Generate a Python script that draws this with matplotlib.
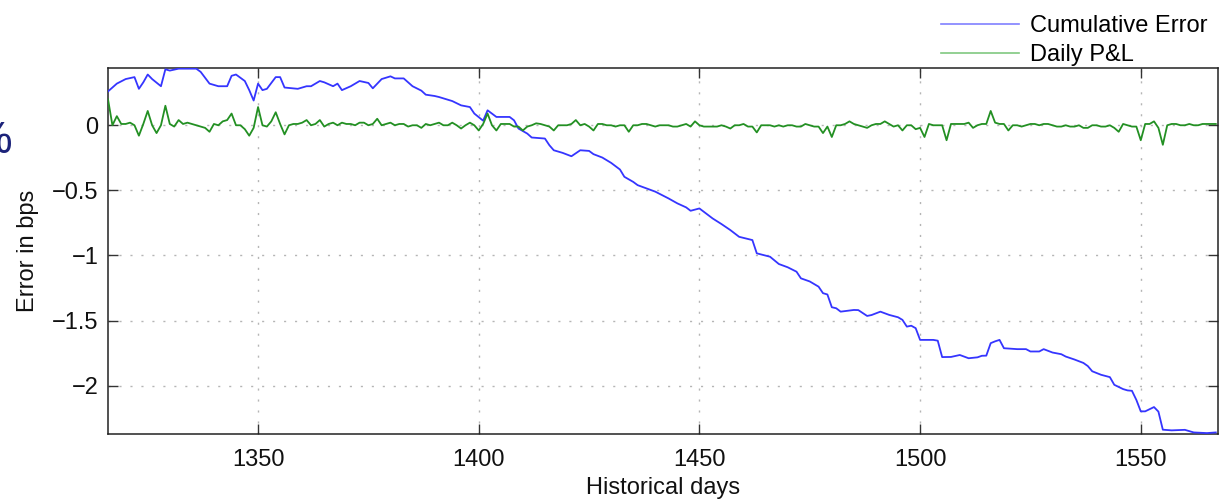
import numpy as np
import matplotlib
matplotlib.use("Agg")
import matplotlib.pyplot as plt
from matplotlib.lines import Line2D

plt.rcParams['font.family'] = ['Liberation Sans', 'DejaVu Sans']

# ---- data ----
cum_days = [1316, 1318, 1320, 1322, 1323, 1324, 1325, 1326, 1328, 1329,
            1330, 1332, 1334, 1336, 1337, 1339, 1341, 1343, 1344, 1345,
            1347, 1348, 1349, 1350, 1351, 1352, 1354, 1355, 1356, 1359,
            1361, 1362, 1364, 1365, 1367, 1368, 1369, 1371, 1373, 1375,
            1376, 1378, 1380, 1381, 1383, 1385, 1387, 1388, 1390, 1391,
            1394, 1396, 1398, 1399, 1401, 1402, 1403, 1404, 1407, 1408,
            1409, 1411, 1412, 1415, 1416, 1417, 1419, 1421, 1423, 1425,
            1426, 1428, 1430, 1432, 1433, 1435, 1436, 1439, 1440, 1443,
            1445, 1447, 1448, 1450, 1451, 1453, 1455, 1457, 1459, 1462,
            1463, 1466, 1468, 1470, 1472, 1473, 1475, 1477, 1478, 1479,
            1480, 1481, 1482, 1485, 1486, 1488, 1489, 1491, 1493, 1495,
            1496, 1497, 1498, 1499, 1500, 1503, 1504, 1505, 1507, 1509,
            1511, 1513, 1514, 1515, 1516, 1517, 1518, 1519, 1522, 1524,
            1525, 1527, 1528, 1530, 1532, 1533, 1535, 1537, 1538, 1539,
            1541, 1543, 1544, 1546, 1547, 1548, 1549, 1550, 1551, 1553,
            1554, 1555, 1557, 1560, 1562, 1565, 1567]
cum_error = [0.26, 0.32, 0.355, 0.37, 0.28, 0.33, 0.39, 0.355, 0.30, 0.43,
             0.42, 0.435, 0.435, 0.435, 0.41, 0.32, 0.30, 0.30, 0.38, 0.39,
             0.34, 0.27, 0.19, 0.32, 0.27, 0.28, 0.37, 0.37, 0.29, 0.28,
             0.30, 0.30, 0.34, 0.33, 0.30, 0.32, 0.27, 0.30, 0.34, 0.325,
             0.284, 0.355, 0.376, 0.36, 0.36, 0.30, 0.266, 0.235, 0.225, 0.217,
             0.186, 0.153, 0.14, 0.09, 0.035, 0.115, 0.09, 0.064, 0.064, 0.038,
             -0.025, -0.064, -0.094, -0.102, -0.153, -0.192, -0.212, -0.238, -0.192, -0.197,
             -0.222, -0.248, -0.289, -0.34, -0.396, -0.435, -0.46, -0.498, -0.51, -0.562,
             -0.60, -0.631, -0.657, -0.639, -0.665, -0.716, -0.759, -0.805, -0.857, -0.882,
             -0.984, -1.01, -1.066, -1.091, -1.125, -1.176, -1.2, -1.24, -1.29, -1.30,
             -1.398, -1.406, -1.432, -1.419, -1.42, -1.465, -1.458, -1.432, -1.457, -1.475,
             -1.495, -1.547, -1.54, -1.559, -1.649, -1.649, -1.655, -1.781, -1.78, -1.765,
             -1.79, -1.783, -1.771, -1.77, -1.674, -1.66, -1.649, -1.713, -1.72, -1.72,
             -1.738, -1.738, -1.72, -1.746, -1.759, -1.777, -1.80, -1.826, -1.85, -1.89,
             -1.917, -1.935, -1.994, -2.027, -2.037, -2.04, -2.11, -2.198, -2.198, -2.165,
             -2.20, -2.339, -2.344, -2.34, -2.36, -2.365, -2.36]

pnl_days = np.arange(1316, 1568)
daily_pnl = [0.20, 0.00, 0.07, 0.01, 0.01, 0.02, 0.00, -0.08, 0.01, 0.11,
             0.00, -0.06, 0.00, 0.15, 0.01, -0.01, 0.04, 0.01, 0.02, 0.01,
             0.00, -0.01, -0.02, -0.05, 0.01, 0.00, 0.03, 0.04, 0.09, 0.00,
             0.00, -0.03, -0.08, -0.02, 0.14, 0.00, -0.01, 0.03, 0.10, 0.01,
             -0.07, 0.00, 0.01, 0.01, 0.02, 0.04, 0.00, 0.01, 0.04, -0.01,
             0.01, 0.02, 0.00, 0.02, 0.01, 0.01, 0.00, 0.02, 0.02, 0.00,
             0.01, 0.05, 0.00, 0.01, 0.02, 0.00, 0.01, 0.01, -0.01, 0.00,
             0.00, -0.02, 0.01, 0.00, 0.01, 0.02, 0.00, 0.00, 0.02, 0.00,
             -0.025, 0.00, 0.02, 0.00, -0.04, 0.01, 0.09, 0.00, -0.04, 0.01,
             0.01, 0.01, -0.01, -0.01, -0.04, -0.01, 0.00, 0.015, 0.01, 0.00,
             -0.01, -0.04, 0.00, 0.00, 0.00, 0.01, 0.04, 0.00, 0.01, -0.01,
             -0.04, 0.01, 0.01, 0.00, 0.00, -0.01, 0.00, 0.00, -0.05, 0.00,
             0.00, 0.01, 0.01, 0.00, -0.01, 0.00, 0.00, 0.00, -0.01, -0.01,
             0.00, 0.01, -0.01, 0.03, 0.00, -0.01, -0.01, -0.01, -0.01, 0.00,
             -0.01, -0.025, 0.00, 0.00, 0.01, -0.01, -0.01, -0.055, 0.00, 0.00,
             0.00, -0.01, 0.00, -0.01, 0.00, 0.00, -0.01, -0.01, 0.01, 0.00,
             -0.01, -0.01, -0.06, -0.01, -0.09, 0.00, 0.00, 0.01, 0.03, 0.01,
             0.00, -0.01, -0.02, 0.00, 0.01, 0.01, 0.03, 0.01, -0.01, 0.00,
             -0.04, 0.00, 0.00, -0.03, -0.02, -0.09, 0.01, 0.00, 0.00, 0.00,
             -0.115, 0.01, 0.01, 0.01, 0.01, 0.02, -0.02, 0.00, 0.01, 0.01,
             0.11, 0.02, 0.01, 0.01, -0.04, 0.00, 0.00, -0.01, 0.00, 0.01,
             0.01, 0.00, 0.01, 0.01, 0.00, -0.01, -0.01, 0.00, -0.01, -0.01,
             0.00, -0.02, -0.02, 0.00, 0.00, -0.01, -0.01, 0.00, -0.02, -0.05,
             0.01, 0.00, -0.01, -0.01, -0.115, 0.01, 0.01, 0.03, -0.02, -0.15,
             0.00, 0.01, 0.01, 0.00, 0.00, 0.01, 0.00, 0.00, 0.01, 0.01,
             0.01, 0.01]

x_ticks = [1350, 1400, 1450, 1500, 1550]
y_ticks = [-2, -1.5, -1, -0.5, 0]
y_tick_labels = ['\u22122', '\u22121.5', '\u22121', '\u22120.5', '0']
series_labels = ['Cumulative Error', 'Daily P&L']

# ---- figure ----
W, H = 1224, 499
fig = plt.figure(figsize=(W / 100, H / 100), dpi=100)
ax = fig.add_axes([108 / W, 1 - 434 / H, (1218 - 108) / W, (434 - 68) / H])

blue = '#3535ff'
green = '#239023'
ax.plot(cum_days, cum_error, color=blue, lw=1.3, zorder=3)
ax.plot(pnl_days, daily_pnl, color=green, lw=1.3, zorder=3)

ax.set_xlim(1316, 1567.5)
ax.set_ylim(-2.372, 0.44)
ax.set_xticks(x_ticks)
ax.set_yticks(y_ticks)
ax.set_yticklabels(y_tick_labels)
ax.tick_params(direction='in', length=7, width=1.0, colors='#333333',
               labelcolor='#111111', labelsize=17, top=True, right=True, pad=7)
ax.tick_params(axis='x', pad=11)
ax.grid(True, color='#b5b5b5', lw=1.0, linestyle=(0, (1.5, 6.4)))
for s in ax.spines.values():
    s.set_color('#222222')
    s.set_linewidth(1.1)

ax.set_xlabel('Historical days', fontsize=17, color='#111111', labelpad=4)
ax.set_ylabel('Error in bps', fontsize=17, color='#111111', labelpad=9)

handles = [Line2D([], [], color='#8080ff', lw=1.2),
           Line2D([], [], color='#80c880', lw=1.2)]
fig.legend(handles, series_labels, loc='lower right',
           bbox_to_anchor=(1207 / W, 1 - 66 / H), frameon=False,
           fontsize=17, handlelength=3.3, handletextpad=0.45,
           labelspacing=0.3, borderpad=0, borderaxespad=0)

# fragment of slide text cut at the left edge
fig.text(12 / W, 1 - 153 / H, '%', ha='right', va='baseline',
         fontsize=32, color='#1c237a')

fig.savefig('out.png', dpi=100)
